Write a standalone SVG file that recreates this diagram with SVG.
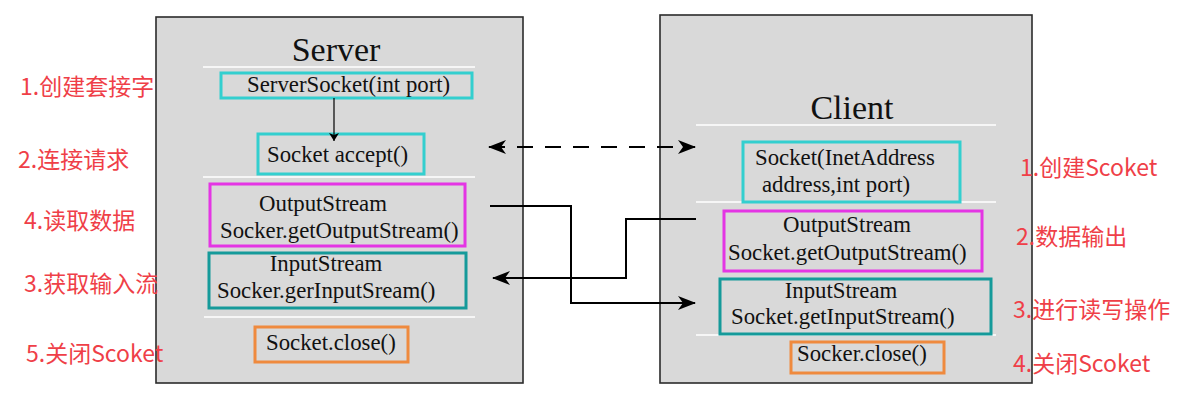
<svg xmlns="http://www.w3.org/2000/svg" width="1183" height="400" viewBox="0 0 1183 400">
<style>
.panel{fill:#d9d9d9;stroke:#2b2b2b;stroke-width:1.6}
.sep{stroke:#ffffff;stroke-width:1.6}
.title{font-family:"Liberation Serif","Times New Roman",serif;font-size:34px;fill:#111;text-anchor:middle}
.t{font-family:"Liberation Serif","Times New Roman",serif;font-size:22.8px;fill:#111}
.c{text-anchor:middle}
.box{fill:none;stroke-width:3}
.cyan{stroke:#33cfcf}
.mag{stroke:#e435e4}
.teal{stroke:#159a9a}
.orange{stroke:#ef8a3e}
.lbl{font-family:"Noto Sans CJK SC","Noto Sans",sans-serif;font-size:23px;fill:#ef3f48}
.conn{fill:none;stroke:#000;stroke-width:2}
</style>
<defs>
<marker id="ah" viewBox="0 0 18 14" refX="17" refY="7" markerWidth="18" markerHeight="14" markerUnits="userSpaceOnUse" orient="auto-start-reverse">
<path d="M0,0 L18,7 L0,14 L5,7 z" fill="#000"/>
</marker>
<marker id="ahs" viewBox="0 0 8 10" refX="8" refY="5" markerWidth="8" markerHeight="10" markerUnits="userSpaceOnUse" orient="auto">
<path d="M0,0 L8,5 L0,10 L2,5 z" fill="#000"/>
</marker>
</defs>

<g id="server">
<rect class="panel" x="156" y="17" width="367" height="366"/>
<text class="title" x="336" y="61">Server</text>
<line class="sep" x1="203" y1="67" x2="475" y2="67"/>
<line class="sep" x1="203" y1="177" x2="475" y2="177"/>
<line class="sep" x1="204" y1="317" x2="475" y2="317"/>
</g>

<g id="client">
<rect class="panel" x="660" y="15" width="372" height="368"/>
<text class="title" x="852" y="119">Client</text>
<line class="sep" x1="696" y1="125" x2="996" y2="125"/>
<line class="sep" x1="696" y1="202" x2="996" y2="202"/>
<line class="sep" x1="696" y1="335" x2="996" y2="335"/>
</g>

<g id="s-serversocket">
<rect class="box cyan" x="221" y="73" width="251" height="25"/>
<text class="t" x="247" y="92">ServerSocket(int port)</text>
</g>
<g id="s-accept">
<rect class="box cyan" x="258" y="134" width="166" height="40"/>
<text class="t" x="267" y="162">Socket accept()</text>
</g>
<g id="s-output">
<rect class="box mag" x="210" y="184" width="255" height="62"/>
<text class="t c" x="323" y="211">OutputStream</text>
<text class="t" x="220" y="238">Socker.getOutputStream()</text>
</g>
<g id="s-input">
<rect class="box teal" x="209" y="253" width="257" height="55"/>
<text class="t c" x="326" y="271">InputStream</text>
<text class="t" x="217" y="298">Socker.gerInputSream()</text>
</g>
<g id="s-close">
<rect class="box orange" x="255" y="327" width="153" height="35"/>
<text class="t" x="266" y="350">Socket.close()</text>
</g>

<g id="c-socket">
<rect class="box cyan" x="743" y="142" width="217" height="60"/>
<text class="t" x="755" y="165">Socket(InetAddress</text>
<text class="t" x="762" y="192">address,int port)</text>
</g>
<g id="c-output">
<rect class="box mag" x="724" y="211" width="258" height="60"/>
<text class="t c" x="847" y="232">OutputStream</text>
<text class="t" x="728" y="260">Socket.getOutputStream()</text>
</g>
<g id="c-input">
<rect class="box teal" x="720" y="279" width="271" height="55"/>
<text class="t c" x="841" y="298">InputStream</text>
<text class="t" x="731" y="324">Socket.getInputStream()</text>
</g>
<g id="c-close">
<rect class="box orange" x="791" y="342" width="153" height="31"/>
<text class="t" x="797" y="361">Socker.close()</text>
</g>

<g id="connectors">
<line x1="334" y1="98" x2="334" y2="141" stroke="#000" stroke-width="1.2" marker-end="url(#ahs)"/>
<line class="conn" x1="489" y1="147" x2="695" y2="147" stroke-dasharray="16 12" marker-start="url(#ah)" marker-end="url(#ah)"/>
<polyline class="conn" points="490,206 571,206 571,303 695,303" marker-end="url(#ah)"/>
<polyline class="conn" points="696,219 626,219 626,278 493,278" marker-end="url(#ah)"/>
</g>

<g id="labels">
<text class="lbl" x="20" y="95">1.创建套接字</text>
<text class="lbl" x="18" y="168">2.连接请求</text>
<text class="lbl" x="24" y="229">4.读取数据</text>
<text class="lbl" x="24" y="292">3.获取输入流</text>
<text class="lbl" x="26" y="362">5.关闭Scoket</text>
<text class="lbl" x="1020" y="176">1.创建Scoket</text>
<text class="lbl" x="1016" y="245">2.数据输出</text>
<text class="lbl" x="1013" y="318">3.进行读写操作</text>
<text class="lbl" x="1013" y="372">4.关闭Scoket</text>
</g>
</svg>
